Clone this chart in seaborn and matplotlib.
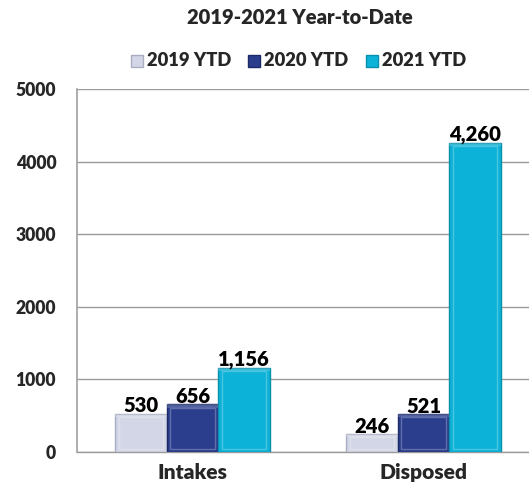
import matplotlib
matplotlib.use("Agg")
import matplotlib.pyplot as plt
import seaborn as sns
import pandas as pd
from matplotlib.patches import Rectangle
from matplotlib.lines import Line2D

categories = ["Intakes", "Disposed"]
series = ["2019 YTD", "2020 YTD", "2021 YTD"]
values_2019 = [530, 246]
values_2020 = [656, 521]
values_2021 = [1156, 4260]
y_ticks = [0, 1000, 2000, 3000, 4000, 5000]

colors = ["#D3D6E6", "#2B3E8E", "#0DB2D8"]
edges = ["#A9ADC2", "#1C2A66", "#0A8FAD"]

df = pd.DataFrame({
    "category": categories * 3,
    "series": [s for s in series for _ in categories],
    "value": values_2019 + values_2020 + values_2021,
})

sns.set_style("white")
plt.rcParams["font.family"] = ["Lato", "DejaVu Sans"]
WEIGHT = "heavy"

fig = plt.figure(figsize=(5.29, 4.91), dpi=100)
ax = fig.add_axes([77 / 529, 39 / 491, 462 / 529, 363 / 491])

sns.barplot(data=df, x="category", y="value", hue="series", order=categories,
            hue_order=series, palette=colors, width=0.67, saturation=1,
            legend=False, ax=ax, zorder=3)

bar_texts = []
# bevelled look: darker outline, light inner frame and a bright top rim
for i, s in enumerate(series):
    for bar in ax.containers[i]:
        bar.set_edgecolor(edges[i])
        bar.set_linewidth(1.0)
        x, w, h = bar.get_x(), bar.get_width(), bar.get_height()
        pad_x = w * 0.07
        pad_y = 5000 * 0.009
        ax.add_patch(Rectangle((x + pad_x, pad_y), w - 2 * pad_x, max(h - 2 * pad_y, 0),
                               facecolor="none", edgecolor="white", alpha=0.25,
                               linewidth=1.0, zorder=4))
        ax.add_patch(Rectangle((x, h - pad_y), w, pad_y, facecolor="white",
                               edgecolor="none", alpha=0.18, zorder=4))
    labels = [f"{v:,.0f}" for v in ax.containers[i].datavalues]
    bar_texts += ax.bar_label(ax.containers[i], labels=labels, padding=-1, fontsize=13,
                              fontweight=WEIGHT, color="black", zorder=5)

ax.set_xlim(-0.5, 1.5)
ax.set_ylim(0, 5000)
ax.set_yticks(y_ticks)
ax.set_yticklabels([str(t) for t in y_ticks], fontsize=12, fontweight=WEIGHT)
ax.set_xticks(range(len(categories)))
ax.set_xticklabels(categories, fontsize=12.5, fontweight=WEIGHT)
ax.tick_params(axis="x", which="major", length=0, pad=8)
ax.set_xticks([0.5], minor=True)
ax.tick_params(axis="x", which="minor", length=6, color="#8C8C8C", width=1.2, direction="out")
ax.tick_params(axis="y", length=6, color="#8C8C8C", width=1, direction="out", pad=9)
ax.set_xlabel("")
ax.set_ylabel("")

ax.yaxis.grid(True, color="#9A9A9A", linewidth=1.0, zorder=0)
ax.set_axisbelow(True)
for side in ["top", "right"]:
    ax.spines[side].set_visible(False)
ax.spines["left"].set_color("#A0A0A0")
ax.spines["left"].set_linewidth(1.2)
ax.spines["bottom"].set_color("#9A9A9A")
ax.spines["bottom"].set_linewidth(1.0)

title = fig.text(300 / 529, 1 - 18 / 491, "2019-2021 Year-to-Date",
                 ha="center", va="center", fontsize=12, fontweight=WEIGHT)

handles = [Line2D([0], [0], marker="s", linestyle="none", markersize=9,
                  markerfacecolor=c, markeredgecolor=e) for c, e in zip(colors, edges)]
leg = fig.legend(handles, series, loc="center", bbox_to_anchor=(297 / 529, 1 - 61 / 491),
                 ncol=3, frameon=False, prop={"weight": WEIGHT, "size": 12},
                 handletextpad=0.1, columnspacing=0.9, handlelength=1.0)


def fit(texts, ref_text, target_px):
    """Scale a group of texts so that ref_text renders target_px wide."""
    renderer = fig.canvas.get_renderer()
    width = ref_text.get_window_extent(renderer).width
    size = ref_text.get_fontsize() * target_px / width
    for t in texts:
        t.set_fontsize(size)


fig.canvas.draw()
fit([title], title, 226)
fit(leg.get_texts(), leg.get_texts()[0], 84)
fit(bar_texts, [t for t in bar_texts if t.get_text() == "1,156"][0], 52)
fit(ax.get_yticklabels(), ax.get_yticklabels()[-1], 41)
fit(ax.get_xticklabels(), ax.get_xticklabels()[0], 70)

fig.savefig("out.png", dpi=100)
